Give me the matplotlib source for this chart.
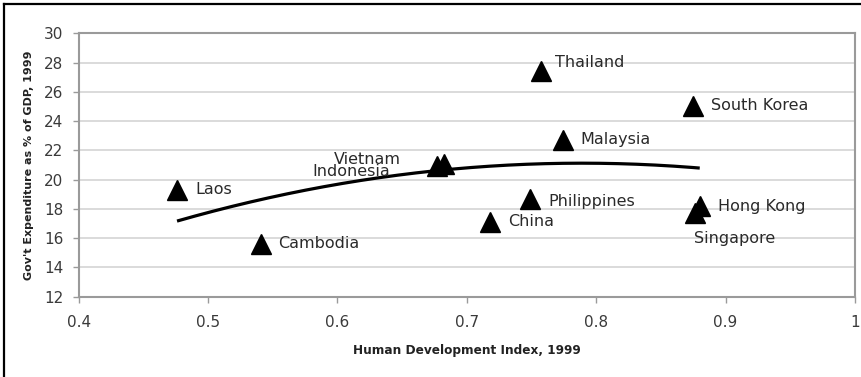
import numpy as np
import matplotlib
matplotlib.use("Agg")
import matplotlib.pyplot as plt
from matplotlib.lines import Line2D

plt.rcParams['font.family'] = ['DejaVu Sans']

countries = ["Laos", "Cambodia", "Indonesia", "Vietnam", "China", "Philippines",
             "Thailand", "Malaysia", "South Korea", "Hong Kong", "Singapore"]
hdi = [0.476, 0.541, 0.677, 0.682, 0.718, 0.749, 0.757, 0.774, 0.875, 0.880, 0.876]
gov_exp = [19.3, 15.6, 20.9, 21.1, 17.1, 18.7, 27.4, 22.7, 25.0, 18.2, 17.7]

x_ticks = [0.4, 0.5, 0.6, 0.7, 0.8, 0.9, 1.0]
x_ticklabels = ["0.4", "0.5", "0.6", "0.7", "0.8", "0.9", "1"]
y_ticks = [12, 14, 16, 18, 20, 22, 24, 26, 28, 30]

# label placement (offset in pixels, horizontal alignment)
label_offsets = {
    "Laos": (18, 0, "left"),
    "Cambodia": (17, 1, "left"),
    "Indonesia": (-47, -5, "right"),
    "Vietnam": (-43, 4, "right"),
    "China": (18, 1, "left"),
    "Philippines": (18, -3, "left"),
    "Thailand": (14, 9, "left"),
    "Malaysia": (18, 1, "left"),
    "South Korea": (18, 1, "left"),
    "Hong Kong": (18, -1, "left"),
    "Singapore": (-1, -25, "left"),
}

W, H, DPI = 861, 377, 100
fig = plt.figure(figsize=(W / DPI, H / DPI), dpi=DPI)
fig.patch.set_facecolor("white")

L, R, T, B = 78.7, 855, 33.3, 296.7
ax = fig.add_axes([L / W, 1 - B / H, (R - L) / W, (B - T) / H])

ax.set_xlim(0.4, 1.0)
ax.set_ylim(12, 30)
ax.set_xticks(x_ticks)
ax.set_xticklabels(x_ticklabels)
ax.set_yticks(y_ticks)

ax.grid(axis="y", color="#d4d4d4", linewidth=1.2, zorder=0)
for s in ax.spines.values():
    s.set_color("#9a9a9a")
    s.set_linewidth(1.5)

ax.tick_params(axis="both", colors="#9a9a9a", labelcolor="#3a3a3a",
               length=4, width=1, labelsize=11)
ax.tick_params(axis="x", pad=9)
ax.tick_params(axis="y", pad=7)

# quadratic trend line fitted to the points
coef = np.polyfit(hdi, gov_exp, 2)
xs = np.linspace(min(hdi), max(hdi), 200)
ax.plot(xs, np.polyval(coef, xs), color="black", linewidth=2.3, zorder=3,
        solid_capstyle="butt")

ax.plot(hdi, gov_exp, linestyle="none", marker="^", markersize=14.5,
        color="black", zorder=4)

for name, x, y in zip(countries, hdi, gov_exp):
    dx, dy, ha = label_offsets[name]
    ax.annotate(name, (x, y), xytext=(dx * 72 / DPI, dy * 72 / DPI),
                textcoords="offset points", ha=ha, va="center",
                fontsize=11.5, color="#2a2a2a", zorder=5)

ax.set_xlabel("Human Development Index, 1999", fontsize=8.7, fontweight="bold",
              color="#222222", labelpad=10)
ax.set_ylabel("Gov't Expenditure as % of GDP, 1999", fontsize=8,
              fontweight="bold", color="#222222", labelpad=7)

# outer frame (top and left edges)
fig.add_artist(Line2D([4 / W, 1.0], [1 - 4 / H, 1 - 4 / H], color="black",
                      linewidth=1.6, transform=fig.transFigure))
fig.add_artist(Line2D([4 / W, 4 / W], [0.0, 1 - 4 / H], color="black",
                      linewidth=1.6, transform=fig.transFigure))

fig.savefig("out.png", dpi=DPI, facecolor="white")
